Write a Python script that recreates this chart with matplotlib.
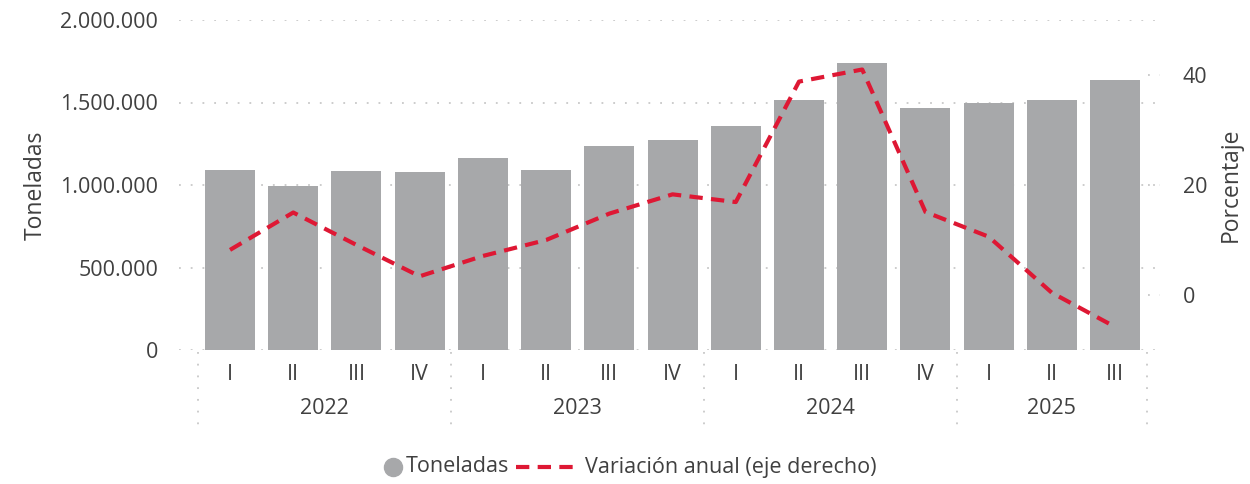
import matplotlib
matplotlib.use("Agg")
import matplotlib.pyplot as plt
from matplotlib.lines import Line2D
from matplotlib.ticker import FuncFormatter, FixedLocator
import matplotlib.transforms as mtransforms

quarters = ["I", "II", "III", "IV", "I", "II", "III", "IV", "I", "II", "III", "IV", "I", "II", "III"]
years = ["2022", "2023", "2024", "2025"]
year_counts = [4, 4, 4, 3]
toneladas = [1091000, 996000, 1085000, 1079000, 1164000, 1091000, 1236000, 1273000,
             1358000, 1515000, 1739000, 1467000, 1497000, 1515000, 1636000]
variacion = [8.2, 15.0, 9.1, 3.4, 7.1, 10.0, 14.8, 18.3, 16.9, 38.8, 41.0, 15.1, 10.6, 0.4, -5.8]
legend_labels = ["Toneladas", "Variación anual (eje derecho)"]

TEXT = "#404040"
BAR = "#A7A8AA"
RED = "#DE1834"
GRID = "#C8C8C8"
W, H = 1250, 484

plt.rcParams["font.family"] = ["Open Sans", "DejaVu Sans"]

fig = plt.figure(figsize=(12.5, 4.84), dpi=100)
ax = fig.add_axes([179 / W, 1 - 350 / H, (1160 - 179) / W, 330 / H])
x = list(range(len(toneladas)))

ax.bar(x, toneladas, width=0.79, color=BAR, zorder=2)
ax.set_ylim(0, 2000000)
ax.set_xlim(-0.807, 14.71)
ax.yaxis.set_major_locator(FixedLocator([0, 500000, 1000000, 1500000, 2000000]))
ax.yaxis.set_major_formatter(FuncFormatter(lambda v, p: f"{int(v):,}".replace(",", ".")))
for v in [0, 500000, 1000000, 1500000, 2000000]:
    ax.axhline(v, color=GRID, lw=1.3, linestyle=(0, (1, 5.5)), zorder=1)
for s in ax.spines.values():
    s.set_visible(False)
ax.tick_params(axis="y", length=0, pad=15, labelsize=15.5, labelcolor=TEXT)
ax.set_xticks(x)
ax.set_xticklabels(quarters)
ax.tick_params(axis="x", length=0, pad=10, labelsize=15.5, labelcolor=TEXT)
ax.set_ylabel("Toneladas", fontsize=16.5, color=TEXT, labelpad=9)

ax2 = ax.twinx()
ax2.plot(x, variacion, color=RED, lw=3.0, linestyle=(0, (3.2, 2.0)),
         solid_joinstyle="round", dash_joinstyle="round", zorder=3)
ax2.set_ylim(-10, 50)
ax2.set_yticks([0, 20, 40])
for s in ax2.spines.values():
    s.set_visible(False)
ax2.tick_params(axis="y", length=0, pad=16.5, labelsize=15.5, labelcolor=TEXT)
ax2.set_ylabel("Porcentaje", fontsize=16.5, color=TEXT, labelpad=8)
for v in [0, 20, 40]:
    ax2.plot([14.52, 14.71], [v, v], color=GRID, lw=1.3, linestyle=(0, (1, 5.5)), zorder=1, clip_on=False)

# hierarchical x axis
trans = mtransforms.blended_transform_factory(ax.transData, ax.transAxes)
start = 0
bounds = [-0.5]
for yr, n in zip(years, year_counts):
    center = start + (n - 1) / 2
    ax.text(center, -0.177, yr, transform=trans, ha="center", va="center",
            fontsize=15.5, color=TEXT)
    start += n
    bounds.append(start - 0.5)
for b in bounds:
    ax.plot([b, b], [-0.006, -0.245], transform=trans, color=GRID, lw=1.3,
            linestyle=(0, (1, 5.5)), clip_on=False, zorder=1)

# custom legend, built in figure pixels
ly = 1 - 467 / H
fig.canvas.draw()
r = fig.canvas.get_renderer()
t1 = fig.text(0, ly, legend_labels[0], fontsize=15.5, color=TEXT, va="center", ha="left")
t2 = fig.text(0, ly, legend_labels[1], fontsize=15.5, color=TEXT, va="center", ha="left")
w1 = t1.get_window_extent(r).width
w2 = t2.get_window_extent(r).width
circ_w, gap1, gap2, line_w, gap3 = 18, 4, 7, 64, 5
total = circ_w + gap1 + w1 + gap2 + line_w + gap3 + w2
x0 = 630 - total / 2
cx = x0 + circ_w / 2
fig.add_artist(Line2D([cx / W], [ly], marker="o", markersize=13, color=BAR, linestyle="none",
                      transform=fig.transFigure))
tx1 = x0 + circ_w + gap1
t1.set_x(tx1 / W)
lx0 = tx1 + w1 + gap2
fig.add_artist(Line2D([lx0 / W, (lx0 + line_w) / W], [ly, ly], color=RED, lw=3.0,
                      linestyle=(0, (3.2, 2.0)), transform=fig.transFigure))
t2.set_x((lx0 + line_w + gap3) / W)

fig.savefig("out.png", dpi=100)
